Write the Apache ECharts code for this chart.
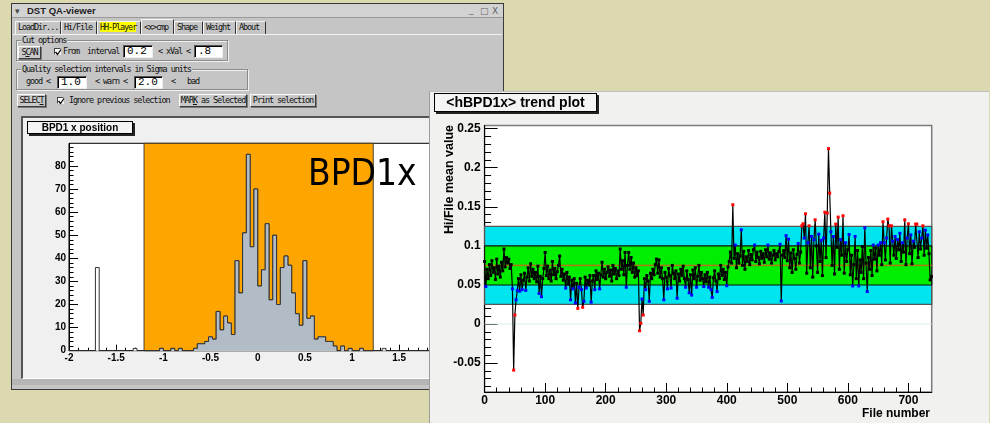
<!DOCTYPE html>
<html><head><meta charset="utf-8">
<script src="https://cdn.jsdelivr.net/npm/echarts@6.0.0/dist/echarts.min.js"></script>
<style>
*{box-sizing:border-box;}
html,body{margin:0;padding:0;}
body{width:990px;height:423px;overflow:hidden;background:#dcd9b1;position:relative;}
.a{position:absolute;}
.mono{font-family:"DejaVu Sans Mono",monospace;font-size:8.5px;letter-spacing:-1.1px;color:#111;white-space:nowrap;}
.btn{background:#c8c8c8;border:1px solid;border-color:#fafafa #3c3c3c #3c3c3c #fafafa;box-shadow:1px 1px 0 #7a7a7a;text-align:center;line-height:11px;}
.inp{background:#fff;border:1px solid;border-color:#555 #eee #eee #555;box-shadow:inset 1px 1px 0 #000;font-family:"Liberation Mono",monospace;font-size:11px;line-height:11px;padding-left:3px;color:#000;}
.grp{border:1px solid #8a8a8a;box-shadow:1px 1px 0 #f2f2f2, inset 1px 1px 0 #f2f2f2;}
.tab{height:13px;top:21px;border-top:1px solid #f4f4f4;border-left:1px solid #f4f4f4;border-right:1px solid #333;line-height:11px;padding-left:2px;}
.chk{width:7px;height:7px;background:#fff;border:1px solid;border-color:#444 #eee #eee #444;}
.chk svg{position:absolute;left:0;top:0;}
.pave{background:#f4f4f4;border:1px solid #000;box-shadow:2px 2px 0 #222;font-family:"Liberation Sans",Arial,sans-serif;font-weight:bold;color:#000;text-align:center;white-space:nowrap;}
</style></head><body>
<!-- left window -->
<div class="a" style="left:11px;top:3px;width:493px;height:387px;background:#c5c5c5;border:1px solid #3a3a3a;"></div>
<div class="a" style="left:12px;top:4px;width:491px;height:14px;background:#d2d2d2;border-bottom:1px solid #9a9a9a;"></div>
<div class="a" style="left:15px;top:4px;font:9px 'DejaVu Sans';line-height:14px;color:#444;">▾</div>
<div class="a" style="left:27px;top:4px;font:bold 9.5px 'Liberation Sans';line-height:14px;color:#222;">DST QA-viewer</div>
<div class="a" style="left:469px;top:3px;font:9px 'DejaVu Sans';line-height:14px;color:#666;">_</div>
<div class="a" style="left:480px;top:4px;font:9px 'DejaVu Sans';line-height:14px;color:#666;">□</div>
<div class="a" style="left:492px;top:4px;font:9px 'DejaVu Sans';line-height:14px;color:#666;">X</div>

<div class="a mono tab" style="left:15px;width:46px;">LoadDir...</div>
<div class="a mono tab" style="left:61px;width:36px;">Hi/File</div>
<div class="a mono tab" style="left:97px;width:44px;"><span style="background:#ffff00;">HH-Player</span></div>
<div class="a mono tab" style="left:141px;width:33px;top:19px;height:15px;line-height:14px;">&lt;x&gt;cmp</div>
<div class="a mono tab" style="left:174px;width:29px;">Shape</div>
<div class="a mono tab" style="left:203px;width:33px;">Weight</div>
<div class="a mono tab" style="left:236px;width:30px;">About</div>
<div class="a" style="left:13px;top:34px;width:489px;height:1px;background:#f2f2f2;"></div>

<div class="a grp" style="left:16px;top:40px;width:212px;height:21px;"></div>
<div class="a mono" style="left:21px;top:36px;background:#c5c5c5;padding:0 1px;line-height:8px;">Cut options</div>
<div class="a mono btn" style="left:18px;top:46px;width:23px;height:13px;">S<u>C</u>AN</div>
<div class="a chk" style="left:54px;top:48px;"><svg width="7" height="7"><path d="M0.5 3 L2.5 5.5 L6 0.5" stroke="#000" stroke-width="1.3" fill="none"/></svg></div>
<div class="a mono" style="left:63px;top:46px;line-height:11px;">From&nbsp;&nbsp;interval</div>
<div class="a inp" style="left:123px;top:45px;width:30px;height:13px;">0.2</div>
<div class="a mono" style="left:158px;top:46px;line-height:11px;">&lt; xVal &lt;</div>
<div class="a inp" style="left:194px;top:45px;width:29px;height:13px;">.8</div>

<div class="a grp" style="left:16px;top:69px;width:232px;height:21px;"></div>
<div class="a mono" style="left:21px;top:65px;background:#c5c5c5;padding:0 1px;line-height:8px;">Quality selection intervals in Sigma units</div>
<div class="a mono" style="left:26px;top:76px;line-height:11px;">good &lt;</div>
<div class="a inp" style="left:57px;top:76px;width:30px;height:13px;">1.0</div>
<div class="a mono" style="left:95px;top:76px;line-height:11px;">&lt; warn &lt;</div>
<div class="a inp" style="left:134px;top:76px;width:29px;height:13px;">2.0</div>
<div class="a mono" style="left:171px;top:76px;line-height:11px;">&lt;&nbsp;&nbsp;&nbsp;bad</div>

<div class="a mono btn" style="left:17px;top:94px;width:29px;height:13px;">SELEC<u>T</u></div>
<div class="a chk" style="left:57px;top:97px;"><svg width="7" height="7"><path d="M0.5 3 L2.5 5.5 L6 0.5" stroke="#000" stroke-width="1.3" fill="none"/></svg></div>
<div class="a mono" style="left:69px;top:95px;line-height:11px;">Ignore previous selection</div>
<div class="a mono btn" style="left:179px;top:94px;width:68px;height:13px;">MAR<u>K</u> as Selected</div>
<div class="a mono btn" style="left:250px;top:94px;width:66px;height:13px;">Print selection</div>

<div class="a" style="left:21px;top:116px;width:481px;height:263px;background:#f0f0f0;border-top:2px solid #555;border-left:2px solid #555;border-bottom:1px solid #fff;"></div>
<div class="a" style="left:12px;top:379px;width:491px;height:6px;background:#b5b5b5;"></div>

<div id="hist" class="a" style="left:23px;top:118px;width:478px;height:260px;"></div>
<div class="a pave" style="left:27px;top:121px;width:106px;height:13px;font-size:10px;line-height:11px;">BPD1 x position</div>

<!-- right window -->
<div class="a" style="left:429px;top:91px;width:560px;height:332px;background:#f1f1ef;border-left:1px solid #9c9c9c;border-top:1px solid #bdbdbd;z-index:10;"></div>
<div id="trend" class="a" style="left:429px;top:91px;width:559px;height:332px;z-index:11;"></div>
<div class="a pave" style="left:434px;top:93px;width:163px;height:19px;font-size:14px;line-height:17px;z-index:12;">&lt;hBPD1x&gt; trend plot</div>

<script>
// ---------- histogram data ----------
const histStart = -2;
const histBinWidth = 0.04;
const histCounts = [
  0,0,0,0,0,0,0,36,0,0,
  0,0,0,0,0,0,0,1,0,0,
  0,0,0,0,1,0,0,1,0,1,
  0,0,0,1,3,3,4,6,5,17,
  9,15,12,7,39,25,51,85,45,70,
  28,35,55,22,50,20,36,41,37,25,
  16,11,39,14,15,5,6,6,4,4,
  2,0,2,0,1,0,0,1,0,0,
  0,0,0,1,0,0,0,0,0,0,
  0,0,0,0,0,0,0,0,0,0
];
const histCutRange = [-1.205, 1.225];
const histYTicks = [0,10,20,30,40,50,60,70,80];
const histLabel = 'BPD1x';

// ---------- trend data (one value every 2 files) ----------
const trendFileStep = 2;
const trendMeans = [
  0.080,0.048,0.070,0.058,0.076,0.062,0.081,0.066,0.072,0.057,
  0.083,0.064,0.074,0.060,0.079,0.068,0.096,0.073,0.085,0.078,
  0.083,0.071,0.076,0.045,-0.059,0.0115,0.031,0.043,0.058,0.042,
  0.063,0.044,0.056,0.065,0.043,0.060,0.072,0.055,0.077,0.061,
  0.070,0.058,0.066,0.054,0.074,0.039,0.061,0.035,0.058,0.071,
  0.0915,0.062,0.074,0.058,0.069,0.055,0.080,0.063,0.071,0.058,
  0.067,0.075,0.087,0.061,0.070,0.056,0.064,0.046,0.066,0.051,
  0.060,0.031,0.056,0.045,0.058,0.027,0.052,0.020,0.047,0.058,
  0.044,0.0214,0.029,0.060,0.046,0.056,0.050,0.062,0.028,0.055,
  0.062,0.044,0.068,0.057,0.065,0.045,0.063,0.079,0.060,0.070,
  0.058,0.066,0.073,0.061,0.069,0.055,0.075,0.064,0.071,0.058,
  0.068,0.062,0.096,0.070,0.081,0.063,0.0915,0.047,0.075,0.0915,
  0.070,0.085,0.066,0.078,0.060,0.072,0.062,0.068,-0.0086,0.0009,
  0.032,0.0115,0.058,0.044,0.062,0.055,0.029,0.065,0.058,0.070,
  0.063,0.076,0.083,0.065,0.082,0.060,0.072,0.058,0.031,0.066,
  0.060,0.045,0.071,0.062,0.046,0.075,0.065,0.058,0.068,0.033,
  0.064,0.055,0.070,0.062,0.074,0.058,0.047,0.068,0.057,0.040,
  0.063,0.037,0.069,0.058,0.072,0.047,0.061,0.075,0.056,0.066,
  0.058,0.048,0.063,0.054,0.066,0.047,0.060,0.044,0.034,0.059,
  0.068,0.055,0.0415,0.064,0.058,0.075,0.062,0.070,0.057,0.066,
  0.049,0.073,0.080,0.092,0.078,0.1526,0.084,0.101,0.072,0.090,
  0.078,0.087,0.1205,0.075,0.093,0.070,0.086,0.080,0.094,0.076,
  0.089,0.082,0.095,0.101,0.080,0.092,0.085,0.077,0.093,0.084,
  0.090,0.079,0.095,0.086,0.101,0.083,0.091,0.078,0.088,0.094,
  0.082,0.090,0.086,0.093,0.102,0.0295,0.088,0.094,0.085,0.113,
  0.081,0.1085,0.072,0.091,0.066,0.095,0.084,0.070,0.089,0.103,
  0.078,0.092,0.1256,0.1282,0.110,0.141,0.065,0.104,0.1256,0.072,
  0.112,0.060,0.108,0.1333,0.100,0.066,0.115,0.080,0.107,0.062,
  0.110,0.143,0.085,0.142,0.2244,0.1675,0.118,0.075,0.112,0.064,
  0.1278,0.098,0.1368,0.070,0.108,0.088,0.1385,0.065,0.104,0.080,
  0.095,0.1145,0.063,0.088,0.0487,0.076,0.112,0.058,0.094,0.0487,
  0.082,0.066,0.099,0.058,0.123,0.078,0.0415,0.085,0.070,0.094,
  0.062,0.101,0.083,0.097,0.068,0.101,0.088,0.104,0.076,0.1308,
  0.104,0.082,0.110,0.1342,0.1256,0.078,0.1256,0.106,0.088,0.112,
  0.084,0.108,0.095,0.116,0.080,0.104,0.092,0.1333,0.076,0.110,
  0.1282,0.090,0.114,0.077,0.106,0.098,0.1278,0.1278,0.085,0.118,
  0.096,0.110,0.1256,0.088,0.120,0.097,0.114,0.090,0.0564,0.0607
];
const goodBand = [0.05, 0.1];
const warnBand = [0.025, 0.125];
const meanLevel = 0.075;
const trendYTicks = [-0.05, 0, 0.05, 0.1, 0.15, 0.2, 0.25];
const trendXTicks = [0,100,200,300,400,500,600,700];

// ---------- helpers ----------
const boldFont = {fontFamily:'Liberation Sans', fontWeight:'bold', color:'#000'};
function minorBetween(from, to, step, majorStep){
  const out=[];
  const n=Math.round((to-from)/step);
  for(let i=0;i<=n;i++){
    const v=+(from+i*step).toFixed(6);
    if(Math.abs(v/majorStep-Math.round(v/majorStep))>1e-6) out.push(v);
  }
  return out;
}

// ---------- histogram chart ----------
const histAll = histCounts.map((c,k)=>[+(histStart+k*histBinWidth).toFixed(4), c]);
histAll.push([+(histStart+histCounts.length*histBinWidth).toFixed(4), 0]);
const histIn = histAll.filter(p=>p[0]>=-1.2001 && p[0]<=1.2401);

const hist = echarts.init(document.getElementById('hist'));
hist.setOption({
  animation:false,
  grid:{left:46, top:25.3, width:377.4, height:207.4, show:true, backgroundColor:'#ffffff', borderColor:'#000', borderWidth:1},
  xAxis:[{type:'value', min:-2, max:2, interval:0.5,
    axisLine:{show:true, onZero:false, lineStyle:{color:'#000', width:1}},
    axisTick:{show:true, inside:true, length:6, lineStyle:{color:'#000'}},
    minorTick:{show:true, splitNumber:5, length:3, lineStyle:{color:'#000'}},
    splitLine:{show:false},
    axisLabel:Object.assign({margin:3, fontSize:10}, boldFont)}],
  yAxis:[{type:'value', min:0, max:89.8, position:'left',
    axisLine:{show:true, onZero:false, lineStyle:{color:'#000', width:1}},
    axisTick:{show:true, inside:true, length:9, customValues:histYTicks, lineStyle:{color:'#000'}},
    axisLabel:Object.assign({margin:3, fontSize:10, customValues:histYTicks}, boldFont),
    splitLine:{show:false}},
   {type:'value', min:0, max:89.8, position:'left', offset:0,
    axisLine:{show:false, onZero:false},
    axisTick:{show:true, inside:true, length:4.5, customValues:minorBetween(0,88,2,10), lineStyle:{color:'#000'}},
    axisLabel:{show:false}, splitLine:{show:false}}],
  graphic:[{type:'text', x:285, y:57, scaleX:0.87, z:50,
    style:{text:histLabel, fontFamily:'DejaVu Sans', fontSize:38, fill:'#000', align:'left', verticalAlign:'middle'}}],
  series:[
    {type:'line', step:'end', data:histAll, symbol:'none', z:3,
     lineStyle:{color:'#333', width:1}, areaStyle:{color:'#ffffff', opacity:1},
     markArea:{silent:true, z:1, itemStyle:{color:'#ffa500', borderColor:'#222', borderWidth:0.8},
       data:[[{xAxis:histCutRange[0]},{xAxis:histCutRange[1]}]]}},
    {type:'line', step:'end', data:histIn, symbol:'none', z:4,
     lineStyle:{color:'#333', width:1}, areaStyle:{color:'#b1bcc7', opacity:1}}
  ]
});

// ---------- trend chart ----------
const trendPts = trendMeans.map((v,i)=>[i*trendFileStep, v]);
function markerColor(v){
  if(v>warnBand[1] || v<warnBand[0]) return '#ff0000';
  if(v>goodBand[1] || v<goodBand[0]) return '#0000ff';
  return '#000000';
}
const trend = echarts.init(document.getElementById('trend'));
trend.setOption({
  animation:false,
  grid:{left:55.6, top:34.5, width:447.1, height:266.5, show:true, backgroundColor:'#ffffff', borderColor:'#7a7a7a', borderWidth:1.5},
  xAxis:[{type:'value', min:0, max:738.5, position:'bottom',
    axisLine:{show:true, onZero:false, lineStyle:{color:'#000', width:1}},
    axisTick:{show:true, inside:true, length:9, customValues:trendXTicks, lineStyle:{color:'#000'}},
    axisLabel:Object.assign({margin:3, fontSize:12, customValues:trendXTicks}, boldFont),
    splitLine:{show:false}},
   {type:'value', min:0, max:738.5, position:'bottom', offset:0,
    axisLine:{show:false, onZero:false},
    axisTick:{show:true, inside:true, length:4.5, customValues:minorBetween(20,720,20,100), lineStyle:{color:'#000'}},
    axisLabel:{show:false}, splitLine:{show:false}}],
  yAxis:[{type:'value', min:-0.087, max:0.254, position:'left',
    axisLine:{show:true, onZero:false, lineStyle:{color:'#000', width:1}},
    axisTick:{show:true, inside:true, length:13, customValues:trendYTicks, lineStyle:{color:'#000'}},
    axisLabel:Object.assign({margin:4, fontSize:12, customValues:trendYTicks,
      formatter:v=>String(+Number(v).toFixed(3))}, boldFont),
    splitLine:{show:false}},
   {type:'value', min:-0.087, max:0.254, position:'left', offset:0,
    axisLine:{show:false, onZero:false},
    axisTick:{show:true, inside:true, length:6.5, customValues:minorBetween(-0.08,0.24,0.01,0.05), lineStyle:{color:'#000'}},
    axisLabel:{show:false}, splitLine:{show:false}}],
  graphic:[
    {type:'text', x:20.5, y:34, rotation:Math.PI/2,
     style:{text:'Hi/File mean value', fontFamily:'Liberation Sans', fontWeight:'bold', fontSize:12.5, fill:'#000', align:'right', verticalAlign:'middle'}},
    {type:'text', x:501, y:323,
     style:{text:'File number', fontFamily:'Liberation Sans', fontWeight:'bold', fontSize:12, fill:'#000', align:'right', verticalAlign:'middle'}}
  ],
  series:[{
    type:'line', data:trendPts, z:5, symbol:'rect', symbolSize:3, showAllSymbol:true,
    clip:true,
    lineStyle:{color:'#000', width:1.2},
    itemStyle:{color:p=>markerColor(p.value[1])},
    markArea:{silent:true, z:1, data:[
      [{yAxis:-0.0006, itemStyle:{color:'#d9eeee', borderWidth:0}},{yAxis:0.0006}],
      [{yAxis:warnBand[0], itemStyle:{color:'#00e5ef', borderColor:'#555', borderWidth:1.3}},{yAxis:warnBand[1]}],
      [{yAxis:goodBand[0], itemStyle:{color:'#00ee00', borderColor:'#111', borderWidth:1.1}},{yAxis:goodBand[1]}],
      [{yAxis:meanLevel-0.0004, itemStyle:{color:'#b8741a', borderColor:'#b8741a', borderWidth:0.8}},{yAxis:meanLevel+0.0004}]
    ]}
  }]
});
</script>
</body></html>
